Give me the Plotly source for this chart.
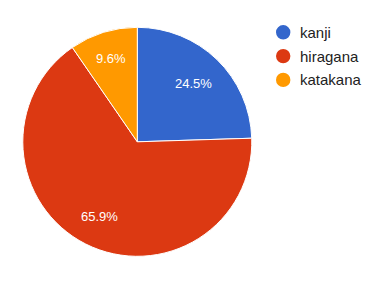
import math
import plotly.graph_objects as go

labels = ["kanji", "hiragana", "katakana"]
values = [24.5, 65.9, 9.6]
colors = ["#3366cc", "#dc3912", "#ff9900"]

W, H = 388, 287
cx, cy, r = 137.3, 141.8, 114.5
FONT = "Liberation Sans, Arial, sans-serif"
label_fs = 13
legend_fs = 15

fig = go.Figure()
fig.add_trace(go.Pie(
    labels=labels, values=values, sort=False, direction="clockwise", rotation=0,
    marker=dict(colors=colors, line=dict(color="white", width=1)),
    textinfo="none", showlegend=False, hoverinfo="label+percent",
    domain=dict(x=[(cx - r) / W, (cx + r) / W], y=[1 - (cy + r) / H, 1 - (cy - r) / H]),
))

# slice labels (Google-style placement: far corner of text box near 0.865 r)
cw = {"0": .556, "1": .556, "2": .556, "3": .556, "4": .556, "5": .556, "6": .556,
      "7": .556, "8": .556, "9": .556, ".": .278, "%": .889}
total = sum(values)
cum = 0.0
for v in values:
    mid = (cum + v / 2) / total * 2 * math.pi
    cum += v
    txt = f"{v / total * 100:.1f}%"
    w = sum(cw.get(ch, .556) for ch in txt) * label_fs
    h = label_fs
    ux, uy = math.sin(mid), -math.cos(mid)
    c = (math.copysign(w / 2, ux), math.copysign(h / 2, uy))
    uc = ux * c[0] + uy * c[1]
    cc = c[0] ** 2 + c[1] ** 2
    Rt = 0.865 * r
    d = -uc + math.sqrt(uc * uc - cc + Rt * Rt)
    px, py = cx + d * ux, cy + d * uy
    fig.add_annotation(x=px / W, y=1 - py / H, xref="paper", yref="paper",
                       text=txt, showarrow=False, xanchor="center", yanchor="middle",
                       font=dict(family=FONT, size=label_fs, color="white"))

# legend
lx, ly0, dy, rad = 283.2, 32.3, 23.8, 7.2
for i, (lab, col) in enumerate(zip(labels, colors)):
    y = ly0 + i * dy
    fig.add_shape(type="circle", xref="paper", yref="paper",
                  x0=(lx - rad) / W, x1=(lx + rad) / W,
                  y0=1 - (y + rad) / H, y1=1 - (y - rad) / H,
                  fillcolor=col, line=dict(width=0))
    fig.add_annotation(x=297.5 / W, y=1 - y / H, xref="paper", yref="paper",
                       text=lab, showarrow=False, xanchor="left", yanchor="middle",
                       font=dict(family=FONT, size=legend_fs, color="#222222"))

fig.update_layout(
    width=W, height=H, margin=dict(l=0, r=0, t=0, b=0),
    paper_bgcolor="white", plot_bgcolor="white", showlegend=False,
)
fig.write_html("out.html")
